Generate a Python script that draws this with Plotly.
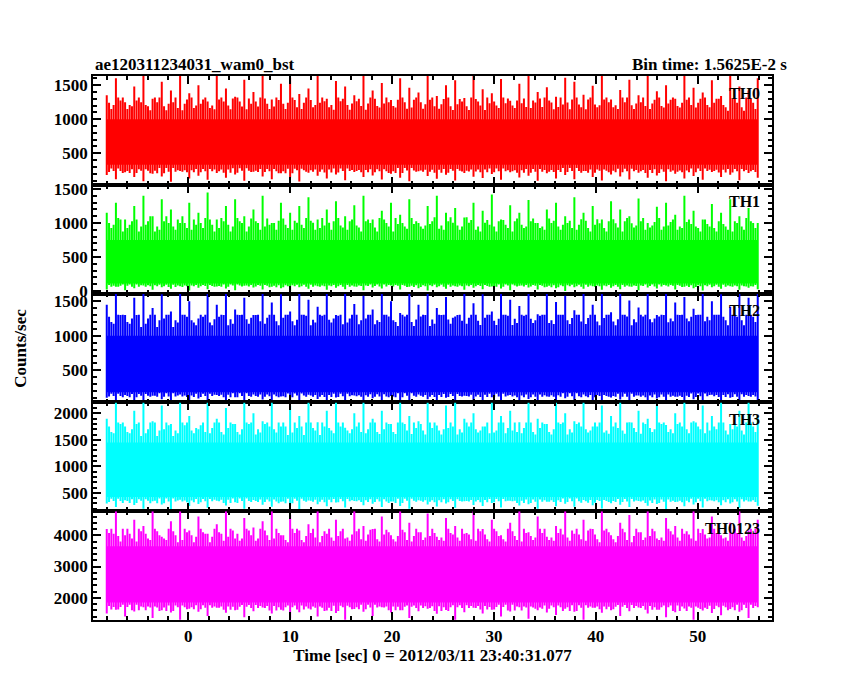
import plotly.graph_objects as go
from plotly.subplots import make_subplots

t_start, t_end = -8.0, 55.9

names = ['TH0', 'TH1', 'TH2', 'TH3', 'TH0123']
colors = ['#ff0000', '#00ff00', '#0000ff', '#00ffff', '#ff00ff']
yranges = [[37, 1634], [-40, 1563], [34, 1610], [153, 2207], [1290, 4770]]
ytickvals = [[500, 1000, 1500], [0, 500, 1000, 1500], [500, 1000, 1500],
             [500, 1000, 1500, 2000], [2000, 3000, 4000]]
yminor = [100, 100, 100, 100, 200]

# dense core of each band
core_lo = [330, 110, 180, 420, 1850]
core_hi = [1000, 750, 1000, 1450, 3650]

th0_hi = [1350,1600,1250,1480,1634,1300,1550,1420,1634,1380,1500,1260,1634,1450,1330,1580,1400,1634,1290,1520,
          1610,1370,1450,1634,1300,1560,1480,1350,1634,1420,1530,1280,1600,1460,1390,1634,1340,1500,1570,1310,
          1634,1440,1380,1590,1270,1520,1634,1400,1470,1330,1610,1550,1360,1490,1634,1290,1430,1580,1350,1634,
          1410,1500,1300,1634,1460,1390,1570,1340,1634,1480,1420,1600]
th0_lo = [180,120,220,150,90,200,160,80,240,130,170,110,210,140,190,95,230,160,120,205,145,85,215,170,130,190,
          105,225,150,175,115,200,140,90,235,165,125,185,100,210,155,135,195,110,220,145,170,95,205,130,180,120,
          240,150,100,190,160,115,215,140,175,90,200,130,165,110,225,150,185,105,210,140]
th1_hi = [1150,1300,1050,1250,1400,1100,1350,1200,1000,1300,1150,1450,1050,1250,1350,1100,1200,1400,1000,1300,
          1150,1250,1380,1050,1200,1320,1100,1260,1400,1050,1180,1300,1120,1350,1000,1250,1400,1150,1220,1080,
          1300,1180,1420,1050,1260,1150,1340,1000,1200,1300,1100,1380,1150,1250,1050,1320,1200,1100,1360,1000,
          1240,1300,1120,1400,1180,1050,1280,1150,1350,1100,1220,1000]
th1_lo = [20,60,10,40,80,15,55,30,70,5,45,25,65,35,10,75,50,20,60,40,0,55,30,70,15,45,25,65,10,50,35,80,20,
          60,40,5,55,30,70,15,45,25,65,35,10,75,50,20,60,40,0,55,30,70,15,45,25,65,10,50,35,80,20,60,40,5,55,
          30,70,15,45,25]
th2_hi = [1450,1610,1300,1550,1610,1400,1600,1350,1610,1500,1250,1610,1450,1610,1380,1550,1300,1610,1480,1600,
          1350,1610,1520,1420,1610,1300,1610,1460,1580,1380,1610,1500,1330,1610,1450,1610,1400,1560,1280,1610,
          1470,1600,1350,1610,1520,1430,1610,1310,1610,1490,1580,1370,1610,1450,1610,1340,1610,1510,1410,1610,
          1300,1610,1480,1560,1390,1610,1500,1600,1420,1610,1550,1610]
th2_lo = [100,60,140,70,40,130,80,50,150,60,90,45,140,70,110,40,150,75,55,120,65,40,145,85,55,105,45,135,65,95,
          50,125,60,40,150,80,50,100,45,130,70,60,110,45,140,60,85,40,120,55,95,50,150,65,40,105,75,50,135,55,90,
          40,115,55,80,45,145,65,100,45,125,55]
th3_hi = [1900,2207,1750,2050,2207,1850,2150,1800,2207,1950,1700,2207,1900,2100,1800,2207,2000,1850,2207,1750,
          2150,1950,2207,1830,2050,2207,1730,2000,2207,1900,2050,1800,2207,1950,1850,2207,1770,2150,2207,1900,
          2000,1750,2207,1950,2050,1830,2207,1900,1800,2207,2000,1850,2207,1750,2150,1950,2207,1830,2050,1900,
          2207,1780,2000,2207,1850,2150,1950,2207,1800,2050,2207,1950]
th3_lo = [300,230,360,270,200,340,280,190,370,250,290,220,350,260,320,200,365,275,235,330,255,190,355,285,245,
          315,225,345,265,295,230,335,250,200,360,280,240,300,220,340,270,250,310,225,350,260,285,200,330,245,
          295,235,365,265,205,305,275,230,345,255,290,195,325,245,280,225,355,265,300,220,335,255]
th0123_hi = [4200,4770,4000,4500,4300,4770,3950,4450,4770,4150,4600,4050,4350,4770,3900,4550,4250,4450,4770,4000,
             4650,4150,4350,4770,4050,4500,3900,4770,4300,4200,4600,4000,4770,4400,4100,4700,3950,4550,4300,4050,
             4770,4200,4500,4000,4400,4770,4100,4600,3950,4300,4770,4050,4500,4200,4770,4000,4400,4650,4100,4770,
             3900,4550,4300,4050,4770,4200,4600,4000,4400,4770,4150,4500]
th0123_lo = [1500,1620,1400,1560,1700,1350,1600,1530,1300,1650,1550,1420,1680,1520,1600,1380,1570,1690,1500,1620,
             1340,1540,1660,1400,1590,1510,1300,1640,1550,1420,1700,1530,1600,1350,1570,1650,1490,1610,1300,1540,
             1680,1500,1620,1400,1560,1700,1330,1600,1530,1450,1650,1550,1300,1680,1520,1600,1420,1570,1690,1500,
             1620,1380,1540,1660,1300,1590,1510,1440,1640,1550,1350,1700]

his = [th0_hi, th1_hi, th2_hi, th3_hi, th0123_hi]
los = [th0_lo, th1_lo, th2_lo, th3_lo, th0123_lo]

fig = make_subplots(rows=5, cols=1, shared_xaxes=True, vertical_spacing=0)

for i in range(5):
    row = i + 1
    fig.add_trace(go.Scatter(
        x=[t_start, t_end, t_end, t_start, t_start],
        y=[core_lo[i], core_lo[i], core_hi[i], core_hi[i], core_lo[i]],
        fill='toself', fillcolor=colors[i], mode='lines', line=dict(width=0),
        hoverinfo='skip', showlegend=False), row=row, col=1)
    n = min(len(his[i]), len(los[i]))
    step = (t_end - t_start) / (n - 1)
    xs, ys = [], []
    for k in range(n):
        t = t_start + k * step
        xs += [t, t, None]
        ys += [los[i][k], his[i][k], None]
        if k < n - 1:
            for j, f in enumerate([0.25, 0.5, 0.75]):
                tt = t + step * f
                nb = los[i][(k + j + 1) % n]
                hb = his[i][(k + 2 * j + 3) % n]
                xs += [tt, tt, None]
                ys += [(nb + core_lo[i]) / 2, (hb + core_hi[i]) / 2, None]
    fig.add_trace(go.Scatter(x=xs, y=ys, mode='lines', line=dict(color=colors[i], width=2),
                             showlegend=False), row=row, col=1)
    fig.update_yaxes(range=yranges[i], tickvals=ytickvals[i],
                     minor=dict(ticks='inside', ticklen=4, dtick=yminor[i], tickcolor='black'),
                     row=row, col=1)
    fig.add_annotation(text='<b>' + names[i] + '</b>', xref='x domain',
                       yref='y domain' if i == 0 else f'y{row} domain',
                       x=0.985, y=0.94, xanchor='right', yanchor='top', showarrow=False,
                       font=dict(size=16, color='black'))

axis_style = dict(showline=True, linecolor='black', linewidth=1.5, mirror='allticks',
                  ticks='inside', ticklen=8, tickcolor='black', tickwidth=1.5,
                  showgrid=False, zeroline=False,
                  tickfont=dict(size=17, color='black', weight='bold'))
fig.update_xaxes(range=[-9.35, 57.3], tickvals=[0, 10, 20, 30, 40, 50],
                 minor=dict(ticks='inside', ticklen=4, dtick=2, tickcolor='black'), **axis_style)
fig.update_yaxes(**axis_style)
fig.update_xaxes(showticklabels=False)
fig.update_xaxes(showticklabels=True,
                 title=dict(text='<b>Time [sec] 0 = 2012/03/11 23:40:31.077</b>', standoff=2, font=dict(size=17)),
                 row=5, col=1)

fig.update_layout(
    width=850, height=680,
    margin=dict(l=85, r=86, t=68, b=68),
    paper_bgcolor='white', plot_bgcolor='white',
    font=dict(family='Liberation Serif', size=17, color='black'),
    annotations=list(fig.layout.annotations) + [
        dict(text='<b>ae120311234031_wam0_bst</b>', xref='paper', yref='paper', x=0, y=1.0,
             xanchor='left', yanchor='bottom', showarrow=False, font=dict(size=17)),
        dict(text='<b>Bin time: 1.5625E-2 s</b>', xref='paper', yref='paper', x=1.025, y=1.0,
             xanchor='right', yanchor='bottom', showarrow=False, font=dict(size=17)),
        dict(text='<b>Counts/sec</b>', xref='paper', yref='paper', x=-0.108, y=0.5, textangle=-90,
             xanchor='center', yanchor='middle', showarrow=False, font=dict(size=17)),
    ],
)

fig.write_html("out.html")
